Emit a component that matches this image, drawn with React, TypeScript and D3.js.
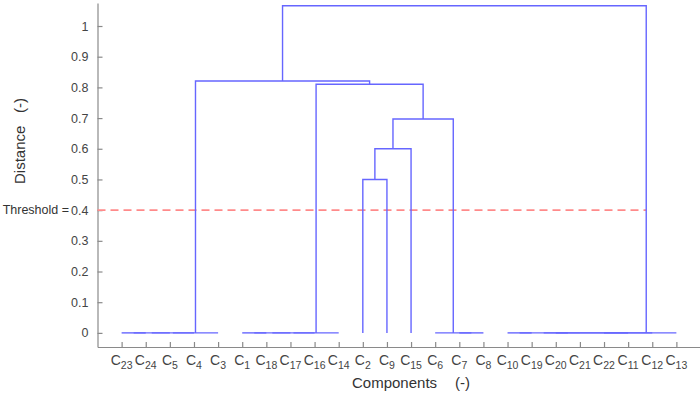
import React, { useRef, useEffect } from "react";
import * as d3 from "d3";

// leaf order along the x axis (component numbers)
const leafOrder = [23, 24, 5, 4, 3, 1, 18, 17, 16, 14, 2, 9, 15, 6, 7, 8, 10, 19, 20, 21, 22, 11, 12, 13];

// linkage: [node, left child, right child, distance]
const merges: [string, string, string, number][] = [
  ["a1", "C23", "C24", 0],
  ["a2", "a1", "C5", 0],
  ["a3", "a2", "C4", 0],
  ["A", "a3", "C3", 0],
  ["b1", "C1", "C18", 0],
  ["b2", "b1", "C17", 0],
  ["b3", "b2", "C16", 0],
  ["B", "b3", "C14", 0],
  ["c1", "C7", "C8", 0],
  ["C", "C6", "c1", 0],
  ["d1", "C10", "C19", 0],
  ["d2", "C20", "C21", 0],
  ["d3", "d1", "d2", 0],
  ["d4", "C22", "C11", 0],
  ["d5", "d3", "d4", 0],
  ["d6", "d5", "C12", 0],
  ["D", "d6", "C13", 0],
  ["m1", "C2", "C9", 0.5],
  ["m2", "m1", "C15", 0.6],
  ["m3", "m2", "C", 0.697],
  ["m4", "B", "m3", 0.81],
  ["m5", "A", "m4", 0.821],
  ["root", "m5", "D", 1.066],
];

const yTicks = [0, 0.1, 0.2, 0.3, 0.4, 0.5, 0.6, 0.7, 0.8, 0.9, 1];
const threshold = 0.4;

const W = 700;
const H = 396;
const FONT = "'Liberation Sans', Arial, sans-serif";

function App() {
  const svgRef = useRef<SVGSVGElement>(null);

  useEffect(() => {
    const svg = d3.select(svgRef.current);
    svg.selectAll("*").remove();

    const x = d3.scaleLinear().domain([0, leafOrder.length + 1]).range([97.5, 700.5]);
    const y = d3.scaleLinear().domain([-0.046, 1.075]).range([347, 3]);

    // node positions: leaves at 1..n, internal nodes at mean of children
    const pos: Record<string, { x: number; h: number }> = {};
    leafOrder.forEach((c, i) => (pos["C" + c] = { x: i + 1, h: 0 }));
    merges.forEach(([name, l, r, h]) => {
      pos[name] = { x: (pos[l].x + pos[r].x) / 2, h };
    });

    // axes
    const yAxis = d3
      .axisLeft(y)
      .tickValues(yTicks)
      .tickSizeInner(-5)
      .tickSizeOuter(0)
      .tickPadding(9)
      .tickFormat((d) => d3.format("")(d as number));
    const gy = svg.append("g").attr("transform", `translate(${x(0)},0)`).call(yAxis);
    gy.selectAll("path, line").attr("stroke", "#8a8a8a").attr("stroke-width", 1.2);
    gy.selectAll("text").attr("fill", "#444").attr("font-size", 12.5).attr("font-family", FONT);

    const xAxis = d3
      .axisBottom(x)
      .tickValues(leafOrder.map((_, i) => i + 1))
      .tickSizeInner(-5)
      .tickSizeOuter(0)
      .tickFormat(() => "");
    const gx = svg.append("g").attr("transform", `translate(0,${y.range()[0]})`).call(xAxis);
    gx.selectAll("path, line").attr("stroke", "#8a8a8a").attr("stroke-width", 1.2);

    // x tick labels with subscripts
    const lbl = svg
      .append("g")
      .selectAll("text")
      .data(leafOrder)
      .join("text")
      .attr("x", (_, i) => x(i + 1))
      .attr("y", 365)
      .attr("text-anchor", "middle")
      .attr("fill", "#444")
      .attr("font-family", FONT)
      .attr("font-size", 14);
    lbl.append("tspan").text("C");
    lbl.append("tspan").attr("font-size", 10.5).attr("dy", 4).text((d) => d);

    // threshold line
    svg
      .append("line")
      .attr("x1", x(0))
      .attr("x2", x(pos["D"].x))
      .attr("y1", y(threshold))
      .attr("y2", y(threshold))
      .attr("stroke", "#ff8a8a")
      .attr("stroke-width", 1.6)
      .attr("stroke-dasharray", "8,5");

    // dendrogram links
    svg
      .append("g")
      .selectAll("path")
      .data(merges)
      .join("path")
      .attr("d", ([name, l, r]) => {
        const a = pos[l];
        const b = pos[r];
        const n = pos[name];
        return `M${x(a.x)},${y(a.h)}V${y(n.h)}H${x(b.x)}V${y(b.h)}`;
      })
      .attr("fill", "none")
      .attr("stroke", "#6666ff")
      .attr("stroke-width", 1.4);

    // labels
    svg
      .append("text")
      .attr("x", 69)
      .attr("y", y(threshold))
      .attr("dy", "0.32em")
      .attr("text-anchor", "end")
      .attr("fill", "#333")
      .attr("font-family", FONT)
      .attr("font-size", 12.5)
      .text("Threshold =");

    const xl = svg.append("g").attr("font-family", FONT).attr("font-size", 15).attr("fill", "#333");
    xl.append("text").attr("x", 352).attr("y", 388).text("Components");
    xl.append("text").attr("x", 455).attr("y", 388).text("(-)");

    const yl = svg.append("g").attr("font-family", FONT).attr("font-size", 15).attr("fill", "#333");
    yl.append("text").attr("transform", "translate(24.5,184) rotate(-90)").text("Distance");
    yl.append("text").attr("transform", "translate(24.5,113) rotate(-90)").text("(-)");
  }, []);

  return (
    <svg
      ref={svgRef}
      width={W}
      height={H}
      style={{ position: "absolute", left: 0, top: 0, background: "#fff" }}
    />
  );
}

export default App;
